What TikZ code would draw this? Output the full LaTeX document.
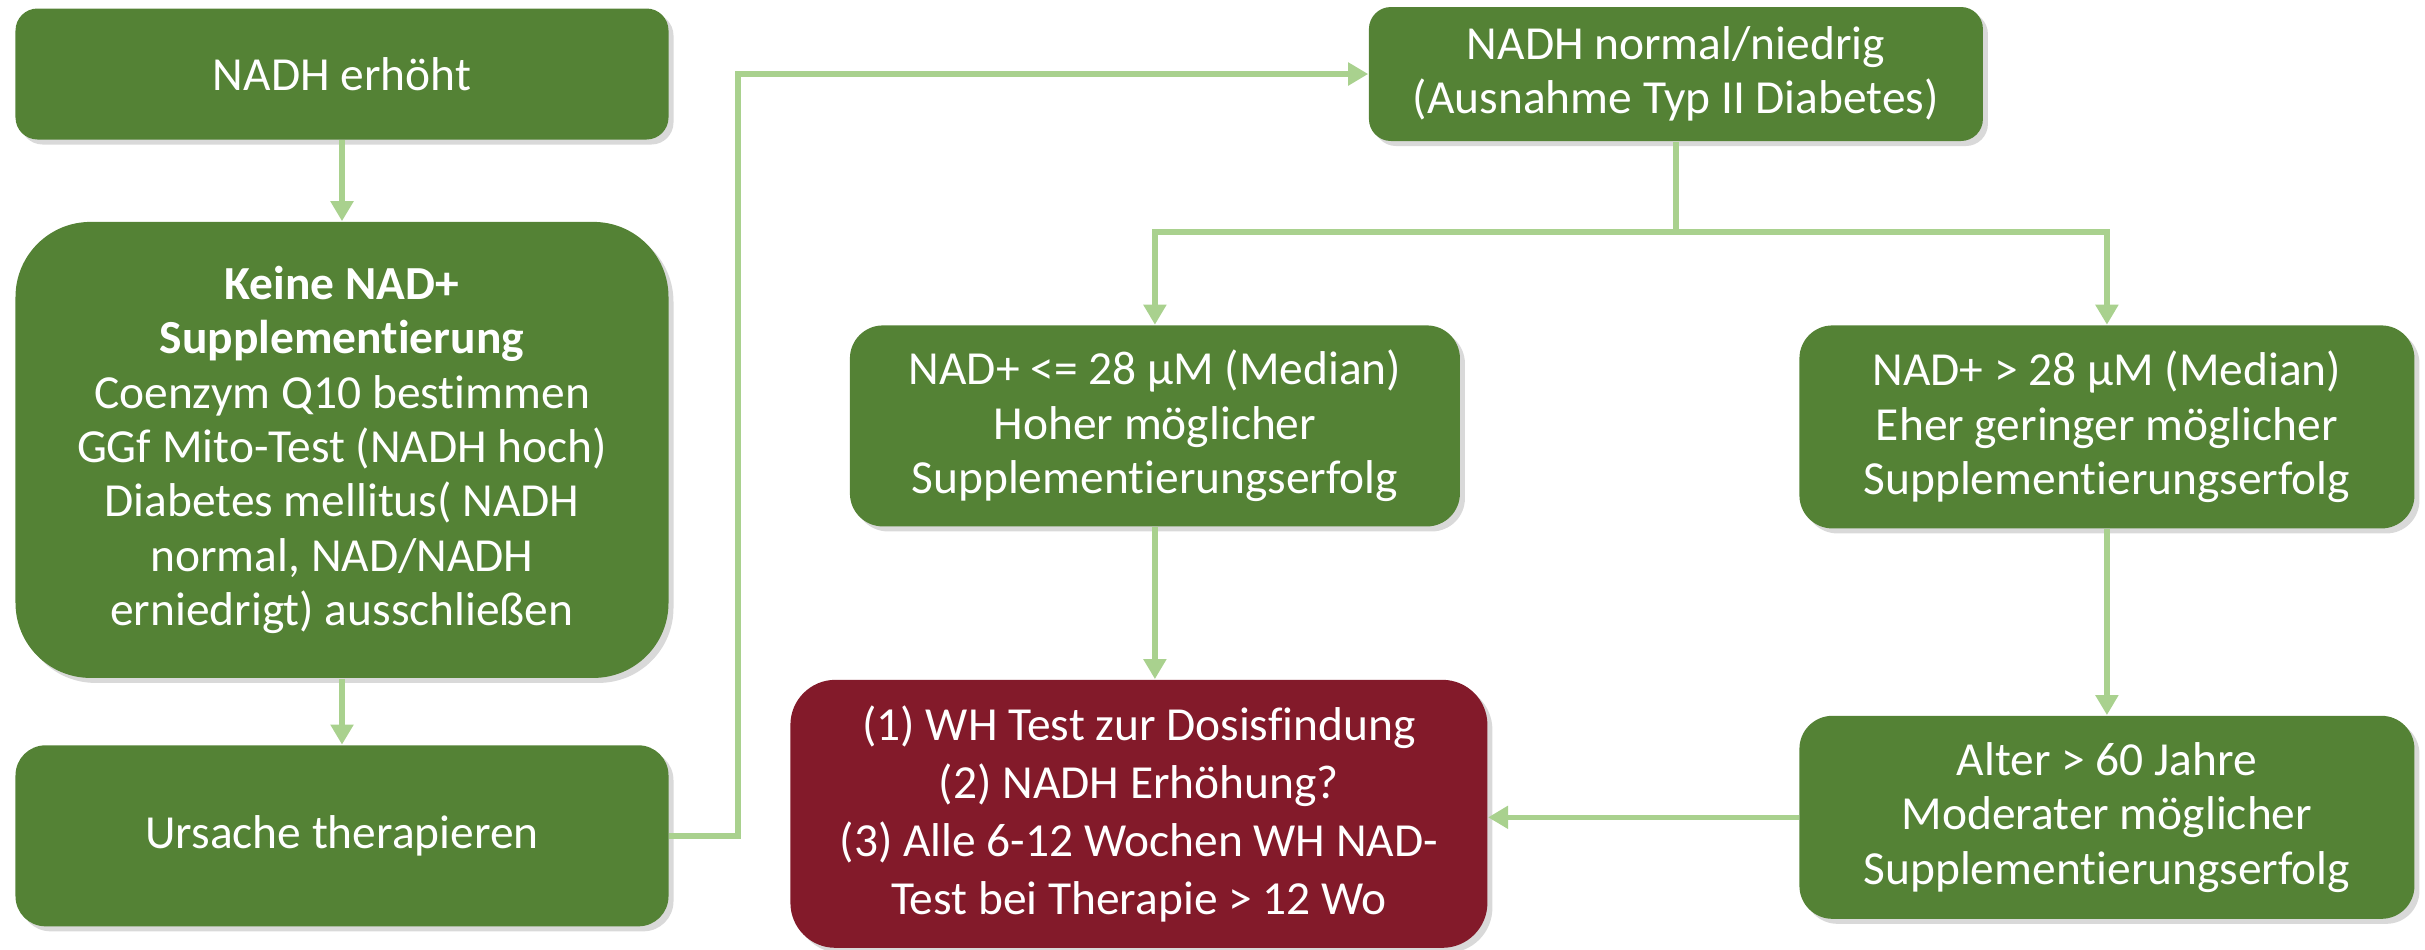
\documentclass[tikz,border=0pt]{standalone}
\usepackage{fontspec}
\setmainfont{Carlito}[Ligatures={TeX,NoCommon}]
\usepackage{tikz}
\usetikzlibrary{arrows.meta,positioning,calc,shadows}
\definecolor{boxgreen}{HTML}{548235}
\definecolor{linkgreen}{HTML}{A9D18E}
\definecolor{boxred}{HTML}{831A2A}

\begin{document}
\begin{tikzpicture}[
    >={Triangle[length=0.2cm,width=0.22cm]},
    node distance=0.8cm and 1cm,
    box/.style={fill=boxgreen, text=white, align=center, inner sep=2pt,
        font=\fontsize{13.5}{15.5}\selectfont,
        drop shadow={opacity=0.3, shadow xshift=0.05cm, shadow yshift=-0.05cm}},
    redbox/.style={box, fill=boxred, font=\fontsize{13.5}{16.5}\selectfont},
    link/.style={draw=linkgreen, line width=1.6pt},
    arr/.style={link, ->}
]
\useasboundingbox (0,0) rectangle (24.25,-9.49);

% Nodes
\node[box, minimum width=6.53cm, minimum height=1.31cm, rounded corners=0.22cm]
    (erhoeht) at (3.42,-0.74) {NADH erhöht};
\node[box, below=0.81cm of erhoeht, minimum width=6.53cm, minimum height=4.56cm, rounded corners=0.75cm]
    (keinesupp) {\textbf{Keine NAD+}\\ \textbf{Supplementierung}\\ Coenzym Q10 bestimmen\\
    GGf Mito-Test (NADH hoch)\\ Diabetes mellitus( NADH\\ normal, NAD/NADH\\ erniedrigt) ausschließen};
\node[box, below=0.66cm of keinesupp, minimum width=6.53cm, minimum height=1.81cm, rounded corners=0.3cm]
    (ursache) {Ursache therapieren};

\node[box, right=6.99cm of erhoeht, minimum width=6.14cm, minimum height=1.34cm, rounded corners=0.22cm]
    (normal) {NADH normal/niedrig\\ (Ausnahme Typ II Diabetes)};
\node[box, below=1.83cm of normal, xshift=-5.21cm, minimum width=6.10cm, minimum height=2.01cm, rounded corners=0.33cm]
    (niedrig) {NAD+ <= 28 µM (Median)\\ Hoher möglicher\\ Supplementierungserfolg};
\node[box, below=1.83cm of normal, xshift=4.31cm, minimum width=6.15cm, minimum height=2.03cm, rounded corners=0.33cm]
    (hoch) {NAD+ > 28 µM (Median)\\ Eher geringer möglicher\\ Supplementierungserfolg};
\node[box, below=1.86cm of hoch, minimum width=6.15cm, minimum height=2.03cm, rounded corners=0.33cm]
    (alter) {Alter > 60 Jahre\\ Moderater möglicher\\ Supplementierungserfolg};
\node[redbox, below=1.52cm of niedrig, xshift=-0.16cm, minimum width=6.97cm, minimum height=2.68cm, rounded corners=0.45cm]
    (wh) {(1) WH Test zur Dosisfindung\\ (2) NADH Erhöhung?\\ (3) Alle 6-12 Wochen WH NAD-\\ Test bei Therapie > 12 Wo};

% Connections
\path[arr] (erhoeht) -- (keinesupp);
\path[arr] (keinesupp) -- (ursache);
\path[arr] (ursache.east) -- ++(0.69,0) |- (normal.west);
\path[link] (normal.south) -- ++(0,-0.9) coordinate (split);
\path[arr] (split) -| (niedrig.north);
\path[arr] (split) -| (hoch.north);
\path[arr] (niedrig.south) -- (niedrig.south |- wh.north);
\path[arr] (hoch) -- (alter);
\path[arr] (alter) -- (alter -| wh.east);

\end{tikzpicture}
\end{document}
